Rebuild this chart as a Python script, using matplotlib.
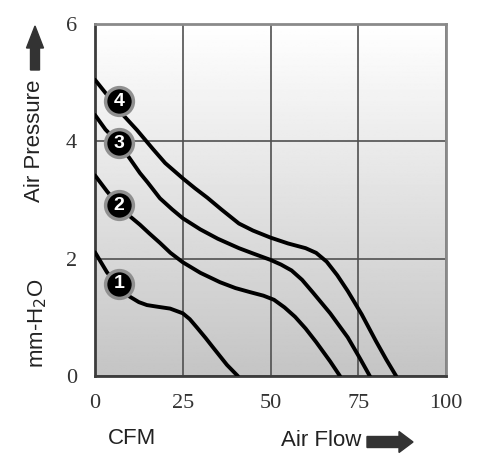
import numpy as np
import matplotlib
matplotlib.use('Agg')
import matplotlib.pyplot as plt

# curves (CFM, mm-H2O)
flow_1 = [0, 3.4, 6.8, 10, 12.5, 14.8, 18, 21.4, 25, 27, 29, 31.5, 33.6, 37.6, 40.7]
pres_1 = [2.11, 1.77, 1.53, 1.35, 1.26, 1.21, 1.18, 1.15, 1.07, 0.97, 0.83, 0.65, 0.49, 0.19, 0]

flow_2 = [0, 3.4, 6.8, 10, 12.8, 15.5, 18.5, 21.5, 25, 30, 35.6, 40, 44.2, 48, 51, 54, 57, 60, 63, 67, 69.8]
pres_2 = [3.42, 3.15, 2.91, 2.72, 2.58, 2.43, 2.27, 2.1, 1.94, 1.76, 1.6, 1.5, 1.43, 1.37, 1.3, 1.17, 1.01, 0.81, 0.58, 0.25, 0]

flow_3 = [0, 3, 6.8, 10, 12.8, 15, 18.5, 22, 25, 30, 35, 41, 45, 50, 53, 56, 59, 62, 67, 72, 75.5, 78.3]
pres_3 = [4.45, 4.2, 3.97, 3.7, 3.46, 3.3, 3.03, 2.84, 2.69, 2.5, 2.34, 2.18, 2.09, 1.98, 1.9, 1.8, 1.64, 1.43, 1.07, 0.66, 0.3, 0]

flow_4 = [0, 4, 8, 12, 16.5, 20, 25, 28.5, 32, 36, 41, 45, 50, 55, 60, 63, 66, 69, 72, 76, 80, 83, 85.8]
pres_4 = [5.05, 4.75, 4.45, 4.19, 3.87, 3.63, 3.37, 3.2, 3.04, 2.84, 2.6, 2.48, 2.36, 2.26, 2.18, 2.1, 1.95, 1.72, 1.45, 1.05, 0.6, 0.28, 0]

labels = ['1', '2', '3', '4']
label_x = [6.8, 6.8, 6.8, 6.8]
label_y = [1.57, 2.91, 3.97, 4.68]

xticks = [0, 25, 50, 75, 100]
yticks = [0, 2, 4, 6]

fig = plt.figure(figsize=(5, 4.62), dpi=100)
ax = fig.add_axes([0.19, 0.186, 0.702, 0.762])

# grey gradient background
grad = np.linspace(0.77, 1.0, 256).reshape(-1, 1)
ax.imshow(grad, cmap='gray', vmin=0, vmax=1, origin='lower', aspect='auto',
          extent=[0, 100, 0, 6], zorder=0)

ax.set_xlim(0, 100)
ax.set_ylim(0, 6)
ax.set_xticks(xticks)
ax.set_yticks(yticks)
ax.grid(color='#505050', linewidth=1.2, zorder=1)
ax.tick_params(length=0, labelsize=16, labelcolor='#333333', pad=13)
for lab in ax.get_xticklabels() + ax.get_yticklabels():
    lab.set_family('Liberation Serif')

for side in ['left', 'bottom']:
    ax.spines[side].set_color('#3c3c3c')
    ax.spines[side].set_linewidth(2)
for side in ['top', 'right']:
    ax.spines[side].set_color('#8a8a8a')
    ax.spines[side].set_linewidth(2)

for fx, py in [(flow_1, pres_1), (flow_2, pres_2), (flow_3, pres_3), (flow_4, pres_4)]:
    ax.plot(fx, py, color='black', linewidth=2.8, solid_joinstyle='round',
            solid_capstyle='round', zorder=3)

for lx, ly, t in zip(label_x, label_y, labels):
    ax.plot(lx, ly, 'o', markersize=20, markerfacecolor='black',
            markeredgecolor='#909090', markeredgewidth=2.5, zorder=4)
    ax.text(lx, ly, t, color='white', fontsize=14, fontweight='bold',
            family='Liberation Sans', ha='center', va='center', zorder=5)

# axis captions and arrows
fig.text(35 / 500, 1 - 141 / 462, 'Air Pressure', rotation=90, ha='center', va='center',
         fontsize=16, family='Liberation Sans', color='#222222')
fig.text(38 / 500, 1 - 323 / 462, 'mm-H$_2$O', rotation=90, ha='center', va='center',
         fontsize=16, family='Liberation Sans', color='#222222')
fig.text(132 / 500, 1 - 439 / 462, 'CFM', ha='center', va='center',
         fontsize=16, family='Liberation Sans', color='#222222')
fig.text(321 / 500, 1 - 441 / 462, 'Air Flow', ha='center', va='center',
         fontsize=16, family='Liberation Sans', color='#222222')

fig.patches.append(matplotlib.patches.FancyArrow(
    35 / 500, 1 - 70 / 462, 0, 44 / 462, width=9 / 500, head_width=17 / 500,
    head_length=22 / 462, length_includes_head=True, color='#333333',
    transform=fig.transFigure, figure=fig))
fig.patches.append(matplotlib.patches.FancyArrow(
    367 / 500, 1 - 442 / 462, 46 / 500, 0, width=11 / 462, head_width=21 / 462,
    head_length=14 / 500, length_includes_head=True, color='#333333',
    transform=fig.transFigure, figure=fig))

fig.savefig('out.png', dpi=100)
